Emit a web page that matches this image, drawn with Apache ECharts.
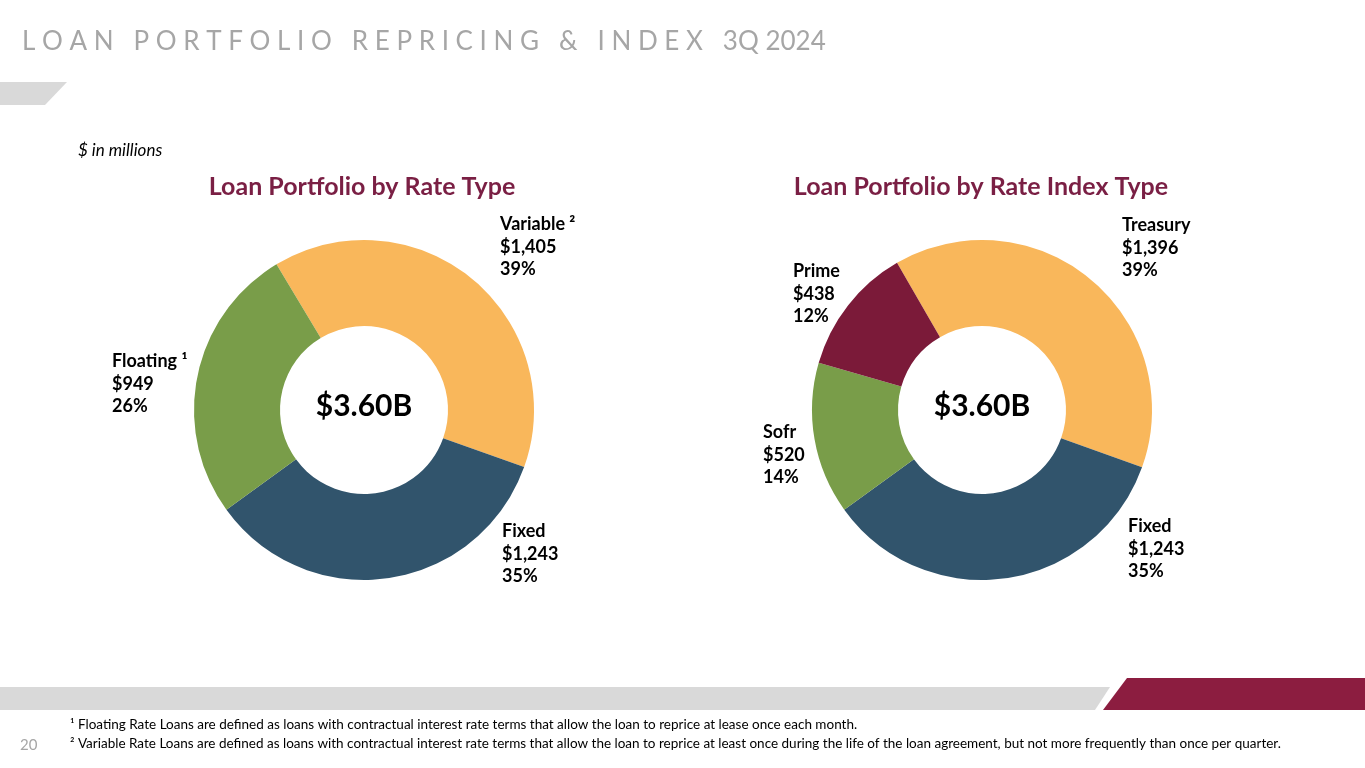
<!DOCTYPE html>
<html>
<head>
<meta charset="utf-8">
<script src="https://cdn.jsdelivr.net/npm/echarts@6/dist/echarts.min.js"></script>
<style>
html,body{margin:0;padding:0;background:#fff;}
#chart{width:1365px;height:768px;}
</style>
</head>
<body>
<div id="chart"></div>
<script>
// ---- data ----
const rateTypeNames = ['Variable', 'Fixed', 'Floating'];
const rateTypeSup = [' ²', '', ' ¹'];
const rateTypeValues = [1405, 1243, 949];
const indexNames = ['Treasury', 'Fixed', 'Sofr', 'Prime'];
const indexSup = ['', '', '', ''];
const indexValues = [1396, 1243, 520, 438];
const centerLabels = ['$3.60B', '$3.60B'];
const chartTitles = ['Loan Portfolio by Rate Type', 'Loan Portfolio by Rate Index Type'];
const pageTitle = 'L O A N   P O R T F O L I O   R E P R I C I N G   &   I N D E X   3Q 2024';
const unitNote = '$ in millions';
const footnotes = [
  '¹ Floating Rate Loans are defined as loans with contractual interest rate terms that allow the loan to reprice at lease once each month.',
  '² Variable Rate Loans are defined as loans with contractual interest rate terms that allow the loan to reprice at least once during the life of the loan agreement, but not more frequently than once per quarter.'
];
const pageNumber = '20';

// ---- layout / style ----
const FONT = 'Lato, "Open Sans", sans-serif';
const colorsRate = ['#f9b75b', '#31546c', '#799d49'];
const colorsIndex = ['#f9b75b', '#31546c', '#799d49', '#7b1a39'];
const labelPosRate = [[500, 213], [502, 520], [112, 350]];
const labelPosIndex = [[1122, 214], [1128, 515], [763, 421], [793, 260]];

function fmt(v) { return '$' + v.toLocaleString('en-US'); }

function buildData(names, sups, values, colors) {
  return names.map((n, i) => ({
    name: n, value: values[i], sup: sups[i],
    itemStyle: { color: colors[i] }
  }));
}

function pieSeries(center, startAngle, data, positions) {
  return {
    type: 'pie',
    center: center,
    radius: [84, 170],
    startAngle: startAngle,
    clockwise: true,
    avoidLabelOverlap: false,
    silent: true,
    animation: false,
    data: data,
    label: {
      show: true,
      position: 'outside',
      fontFamily: FONT,
      fontWeight: 'bold',
      fontSize: 18,
      lineHeight: 22.5,
      color: '#000',
      align: 'left',
      formatter: function (p) {
        return p.name + (p.data.sup || '') + '\n' + fmt(p.value) + '\n' + Math.round(p.percent) + '%';
      }
    },
    labelLine: { show: false },
    labelLayout: function (p) {
      const pos = positions[p.dataIndex];
      return { x: pos[0], y: pos[1], align: 'left', verticalAlign: 'top' };
    }
  };
}

const chart = echarts.init(document.getElementById('chart'));
chart.setOption({
  backgroundColor: '#fff',
  series: [
    pieSeries([364, 410], 121, buildData(rateTypeNames, rateTypeSup, rateTypeValues, colorsRate), labelPosRate),
    pieSeries([982, 410], 120, buildData(indexNames, indexSup, indexValues, colorsIndex), labelPosIndex)
  ],
  graphic: [
    { type: 'text', left: 22, top: 29, style: { text: pageTitle, font: '26px ' + FONT, fill: '#a6a6a6' } },
    { type: 'polygon', shape: { points: [[0, 82], [67, 82], [45, 105], [0, 105]] }, style: { fill: '#d9d9d9' } },
    { type: 'text', left: 78, top: 142, style: { text: unitNote, font: 'italic 17px ' + FONT, fill: '#000' } },
    { type: 'text', x: 362, y: 187, style: { text: chartTitles[0], font: 'bold 25px ' + FONT, fill: '#7a1f44', align: 'center', verticalAlign: 'middle' } },
    { type: 'text', x: 981, y: 187, style: { text: chartTitles[1], font: 'bold 25px ' + FONT, fill: '#7a1f44', align: 'center', verticalAlign: 'middle' } },
    { type: 'text', x: 364, y: 406, style: { text: centerLabels[0], font: 'bold 30px ' + FONT, fill: '#000', align: 'center', verticalAlign: 'middle' } },
    { type: 'text', x: 982, y: 406, style: { text: centerLabels[1], font: 'bold 30px ' + FONT, fill: '#000', align: 'center', verticalAlign: 'middle' } },
    { type: 'polygon', shape: { points: [[0, 687], [1110, 687], [1095, 710], [0, 710]] }, style: { fill: '#d9d9d9' } },
    { type: 'polygon', shape: { points: [[1127, 678], [1365, 678], [1365, 710], [1103, 710]] }, style: { fill: '#8c1d40' } },
    { type: 'text', x: 70, y: 725, style: { text: footnotes[0], font: '13.5px ' + FONT, fill: '#000', verticalAlign: 'middle' } },
    { type: 'text', x: 70, y: 744, style: { text: footnotes[1], font: '13.5px ' + FONT, fill: '#000', verticalAlign: 'middle' } },
    { type: 'text', x: 20, y: 745, style: { text: pageNumber, font: '15px ' + FONT, fill: '#a6a6a6', verticalAlign: 'middle' } }
  ]
});
</script>
</body>
</html>
